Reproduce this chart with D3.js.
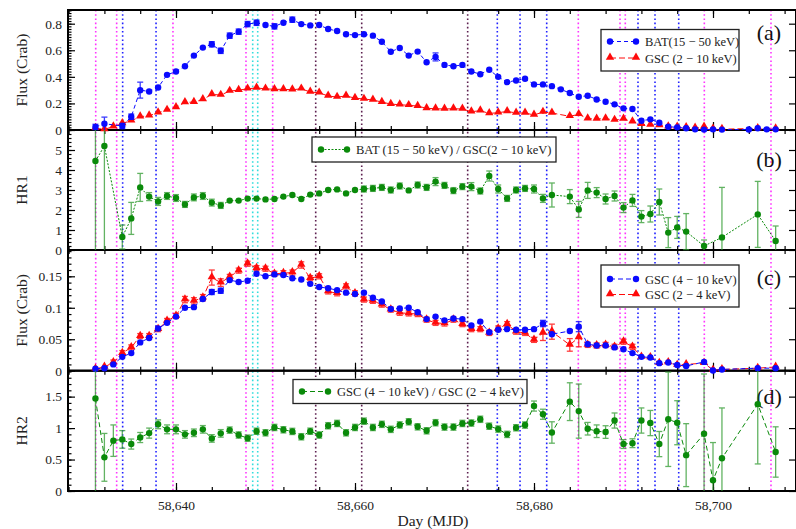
<!DOCTYPE html>
<html>
<head>
<meta charset="utf-8">
<script src="https://cdn.jsdelivr.net/npm/d3@7"></script>
<style>
  body { margin: 0; background: #fff; }
  text { font-family: "Liberation Serif", "Times New Roman", serif; }
</style>
</head>
<body>
<svg id="chart" width="796" height="529"></svg>
<script>
// ---- data ----
const batDays = [
  58631, 58632, 58634, 58635, 58636, 58637, 58638, 58639, 58640, 58641,
  58642, 58643, 58644, 58645, 58646, 58647, 58648, 58649, 58650, 58651,
  58652, 58653, 58654, 58655, 58656, 58657, 58658, 58659, 58660, 58661,
  58662, 58663, 58664, 58665, 58666, 58667, 58668, 58669, 58670, 58671,
  58672, 58673, 58674, 58675, 58676, 58677, 58678, 58679, 58680, 58681,
  58682, 58683, 58684, 58685, 58686, 58687, 58688, 58689, 58690, 58691,
  58692, 58693, 58694, 58695, 58696, 58697, 58698, 58699, 58700, 58701,
  58704, 58705, 58706, 58707];
const batFlux = [
  0.023, 0.047, 0.030, 0.100, 0.300, 0.290, 0.320, 0.415, 0.440, 0.480,
  0.560, 0.620, 0.645, 0.596, 0.710, 0.740, 0.797, 0.807, 0.790, 0.780,
  0.807, 0.830, 0.797, 0.787, 0.790, 0.760, 0.745, 0.720, 0.714, 0.720,
  0.710, 0.664, 0.589, 0.617, 0.560, 0.590, 0.510, 0.550, 0.490, 0.480,
  0.490, 0.440, 0.420, 0.453, 0.400, 0.360, 0.373, 0.386, 0.343, 0.343,
  0.330, 0.306, 0.278, 0.250, 0.258, 0.230, 0.213, 0.193, 0.163, 0.158,
  0.070, 0.080, 0.055, 0.025, 0.020, 0.013, 0.005, 0.003, 0.005, 0.003,
  0.004, 0.013, 0.005, 0.005];
const batErr = [
  0.020, 0.050, 0.020, 0.020, 0.060, 0.012, 0.015, 0.015, 0.015, 0.015,
  0.015, 0.015, 0.020, 0.020, 0.020, 0.020, 0.020, 0.020, 0.015, 0.020,
  0.015, 0.020, 0.015, 0.015, 0.015, 0.015, 0.015, 0.015, 0.015, 0.015,
  0.015, 0.015, 0.015, 0.015, 0.015, 0.015, 0.015, 0.030, 0.015, 0.015,
  0.015, 0.015, 0.015, 0.015, 0.015, 0.010, 0.010, 0.010, 0.010, 0.010,
  0.010, 0.010, 0.010, 0.010, 0.010, 0.010, 0.010, 0.010, 0.010, 0.010,
  0.012, 0.012, 0.010, 0.008, 0.008, 0.008, 0.008, 0.008, 0.008, 0.008,
  0.006, 0.006, 0.006, 0.006];

const gscDays = [
  58631, 58632, 58633, 58634, 58635, 58636, 58637, 58638, 58639, 58640,
  58641, 58642, 58643, 58644, 58645, 58646, 58647, 58648, 58649, 58650,
  58651, 58652, 58653, 58654, 58655, 58656, 58657, 58658, 58659, 58660,
  58661, 58662, 58663, 58664, 58665, 58666, 58667, 58668, 58669, 58670,
  58671, 58672, 58673, 58674, 58675, 58676, 58677, 58678, 58679, 58680,
  58681, 58682, 58684, 58685, 58686, 58687, 58688, 58689, 58690, 58691,
  58692, 58693, 58694, 58695, 58696, 58697, 58698, 58699, 58700, 58701,
  58705, 58707];
const gscFlux = [
  0.013, 0.005, 0.025, 0.050, 0.070, 0.100, 0.108, 0.130, 0.150, 0.170,
  0.208, 0.210, 0.230, 0.268, 0.263, 0.293, 0.300, 0.310, 0.316, 0.310,
  0.306, 0.306, 0.303, 0.310, 0.286, 0.280, 0.256, 0.248, 0.256, 0.240,
  0.233, 0.226, 0.210, 0.195, 0.190, 0.186, 0.180, 0.163, 0.160, 0.158,
  0.160, 0.158, 0.138, 0.145, 0.125, 0.130, 0.140, 0.128, 0.128, 0.113,
  0.135, 0.128, 0.103, 0.118, 0.085, 0.083, 0.085, 0.075, 0.083, 0.063,
  0.043, 0.038, 0.035, 0.025, 0.023, 0.020, 0.015, 0.023, 0.008, 0.006,
  0.012, 0.010];
const gscErr = [
  0.006, 0.006, 0.006, 0.006, 0.006, 0.006, 0.006, 0.006, 0.006, 0.006,
  0.006, 0.006, 0.006, 0.008, 0.006, 0.006, 0.006, 0.006, 0.006, 0.006,
  0.006, 0.006, 0.006, 0.006, 0.006, 0.006, 0.006, 0.006, 0.006, 0.006,
  0.006, 0.006, 0.006, 0.006, 0.006, 0.006, 0.006, 0.006, 0.006, 0.006,
  0.006, 0.006, 0.006, 0.006, 0.006, 0.006, 0.006, 0.006, 0.006, 0.006,
  0.015, 0.006, 0.006, 0.015, 0.006, 0.006, 0.006, 0.006, 0.006, 0.006,
  0.006, 0.006, 0.006, 0.006, 0.006, 0.006, 0.006, 0.006, 0.006, 0.006,
  0.006, 0.006];

const hr1Days = [
  58631, 58632, 58634, 58635, 58636, 58637, 58638, 58639, 58640, 58641,
  58642, 58643, 58644, 58645, 58646, 58647, 58648, 58649, 58650, 58651,
  58652, 58653, 58654, 58655, 58656, 58657, 58658, 58659, 58660, 58661,
  58662, 58663, 58664, 58665, 58666, 58667, 58668, 58669, 58670, 58671,
  58672, 58673, 58674, 58675, 58676, 58677, 58678, 58679, 58680, 58681,
  58682, 58684, 58685, 58686, 58687, 58688, 58689, 58690, 58691, 58692,
  58693, 58694, 58695, 58696, 58697, 58699, 58701, 58705, 58707];
const hr1 = [
  4.45, 5.20, 0.65, 1.58, 3.13, 2.67, 2.43, 2.70, 2.60, 2.28,
  2.63, 2.70, 2.37, 2.23, 2.47, 2.47, 2.57, 2.57, 2.53, 2.55,
  2.67, 2.75, 2.55, 2.77, 2.83, 3.00, 3.03, 2.83, 3.00, 3.05,
  3.08, 3.13, 3.00, 3.20, 2.98, 3.25, 3.13, 3.42, 3.23, 2.97,
  3.17, 3.17, 2.95, 3.70, 3.05, 2.58, 3.00, 3.08, 3.05, 2.58,
  2.75, 2.67, 2.03, 2.98, 2.87, 2.55, 2.70, 2.12, 2.48, 1.67,
  1.80, 2.40, 0.87, 1.13, 0.92, 0.20, 0.63, 1.78, 0.45];
const hr1Err = [
  6.00, 6.00, 0.60, 0.80, 0.70, 0.20, 0.20, 0.17, 0.17, 0.15,
  0.17, 0.17, 0.17, 0.15, 0.10, 0.10, 0.10, 0.10, 0.10, 0.10,
  0.10, 0.10, 0.10, 0.10, 0.10, 0.12, 0.12, 0.12, 0.12, 0.15,
  0.15, 0.15, 0.15, 0.15, 0.12, 0.15, 0.15, 0.20, 0.15, 0.15,
  0.15, 0.20, 0.15, 0.25, 0.20, 0.15, 0.15, 0.15, 0.20, 0.20,
  0.60, 0.35, 0.40, 0.40, 0.25, 0.25, 0.25, 0.25, 0.30, 0.30,
  0.40, 0.65, 0.75, 0.55, 0.90, 0.30, 2.50, 1.65, 0.75];

const softDays = [
  58631, 58632, 58633, 58634, 58635, 58636, 58637, 58638, 58639, 58640,
  58641, 58642, 58643, 58644, 58645, 58646, 58647, 58648, 58649, 58650,
  58651, 58652, 58653, 58654, 58655, 58656, 58657, 58658, 58659, 58660,
  58661, 58662, 58663, 58664, 58665, 58666, 58667, 58668, 58669, 58670,
  58671, 58672, 58673, 58674, 58675, 58676, 58677, 58678, 58679, 58680,
  58681, 58682, 58684, 58685, 58686, 58687, 58688, 58689, 58690, 58691,
  58692, 58693, 58694, 58695, 58696, 58697, 58699, 58700, 58701,
  58705, 58707];
const gscHard = [   // 4-10 keV
  0.003, 0.004, 0.010, 0.022, 0.028, 0.045, 0.052, 0.067, 0.076, 0.086,
  0.100, 0.101, 0.114, 0.125, 0.127, 0.144, 0.141, 0.143, 0.154, 0.150,
  0.153, 0.152, 0.147, 0.145, 0.138, 0.133, 0.131, 0.128, 0.124, 0.122,
  0.124, 0.116, 0.110, 0.098, 0.099, 0.100, 0.093, 0.082, 0.086, 0.080,
  0.083, 0.082, 0.072, 0.078, 0.061, 0.065, 0.066, 0.065, 0.065, 0.066,
  0.075, 0.058, 0.063, 0.070, 0.042, 0.040, 0.040, 0.037, 0.034, 0.028,
  0.022, 0.021, 0.012, 0.013, 0.009, 0.0075, 0.014, 0.0003, 0.002,
  0.004, 0.004];
const gscHardErr = [
  0.003, 0.003, 0.003, 0.003, 0.003, 0.003, 0.003, 0.003, 0.003, 0.003,
  0.003, 0.003, 0.003, 0.004, 0.004, 0.003, 0.003, 0.003, 0.003, 0.003,
  0.003, 0.003, 0.003, 0.003, 0.003, 0.003, 0.003, 0.003, 0.003, 0.003,
  0.003, 0.003, 0.003, 0.003, 0.003, 0.003, 0.003, 0.003, 0.003, 0.003,
  0.003, 0.003, 0.003, 0.003, 0.003, 0.003, 0.003, 0.003, 0.003, 0.003,
  0.005, 0.003, 0.003, 0.008, 0.003, 0.003, 0.003, 0.003, 0.003, 0.003,
  0.003, 0.003, 0.003, 0.003, 0.003, 0.003, 0.003, 0.002, 0.002,
  0.002, 0.002];
const gscSoft = [   // 2-4 keV
  0.003, 0.006, 0.013, 0.028, 0.037, 0.055, 0.055, 0.066, 0.079, 0.087,
  0.113, 0.111, 0.116, 0.148, 0.140, 0.149, 0.159, 0.170, 0.163, 0.162,
  0.154, 0.155, 0.156, 0.168, 0.147, 0.150, 0.126, 0.123, 0.134, 0.123,
  0.113, 0.111, 0.105, 0.097, 0.092, 0.091, 0.090, 0.081, 0.076, 0.075,
  0.081, 0.074, 0.066, 0.066, 0.060, 0.067, 0.074, 0.062, 0.060, 0.049,
  0.060, 0.062, 0.041, 0.053, 0.041, 0.040, 0.041, 0.038, 0.046, 0.038,
  0.022, 0.021, 0.012, 0.013, 0.009, 0.010, 0.012, 0.001, 0.002,
  0.004, 0.006];
const gscSoftErr = [
  0.003, 0.003, 0.004, 0.004, 0.004, 0.004, 0.004, 0.004, 0.004, 0.004,
  0.005, 0.005, 0.005, 0.012, 0.006, 0.004, 0.004, 0.004, 0.004, 0.004,
  0.004, 0.004, 0.004, 0.005, 0.004, 0.004, 0.004, 0.004, 0.004, 0.004,
  0.004, 0.004, 0.004, 0.004, 0.004, 0.004, 0.004, 0.004, 0.004, 0.004,
  0.004, 0.004, 0.004, 0.004, 0.004, 0.004, 0.004, 0.004, 0.004, 0.004,
  0.012, 0.012, 0.010, 0.015, 0.004, 0.004, 0.004, 0.004, 0.004, 0.004,
  0.003, 0.003, 0.003, 0.003, 0.003, 0.003, 0.003, 0.002, 0.002,
  0.002, 0.002];

const hr2 = [
  1.47, 0.535, 0.80, 0.82, 0.746, 0.85, 0.92, 1.06, 0.98, 0.98,
  0.90, 0.925, 0.98, 0.836, 0.916, 0.968, 0.89, 0.84, 0.95, 0.925,
  1.01, 0.973, 0.947, 0.862, 0.95, 0.89, 1.037, 1.074, 0.925, 1.01,
  1.11, 1.01, 1.06, 0.98, 1.05, 1.10, 1.02, 0.957, 1.085, 1.016,
  1.016, 1.074, 1.08, 1.14, 1.03, 0.984, 0.90, 1.005, 1.048, 1.35,
  1.22, 0.93, 1.42, 1.27, 0.99, 0.95, 0.937, 1.12, 0.746, 0.76,
  1.12, 1.08, 0.746, 1.14, 1.085, 0.57, 0.91, 0.17, 0.52,
  1.38, 0.62];
const hr2Err = [
  2.00, 0.38, 0.25, 0.14, 0.08, 0.08, 0.08, 0.07, 0.07, 0.07,
  0.06, 0.06, 0.06, 0.06, 0.06, 0.05, 0.05, 0.05, 0.05, 0.05,
  0.05, 0.05, 0.05, 0.05, 0.05, 0.05, 0.05, 0.05, 0.05, 0.05,
  0.05, 0.05, 0.05, 0.05, 0.05, 0.05, 0.05, 0.05, 0.05, 0.05,
  0.05, 0.05, 0.05, 0.05, 0.05, 0.05, 0.05, 0.05, 0.05, 0.08,
  0.08, 0.17, 0.30, 0.43, 0.10, 0.10, 0.10, 0.12, 0.07, 0.07,
  0.20, 0.20, 0.20, 0.75, 0.35, 0.50, 0.95, 0.60, 0.80,
  0.95, 0.40];

// vertical marker lines (day, colour)
const markDays = [58631.03, 58633.37, 58634.04, 58637.77, 58639.66, 58647.82, 58648.57,
  58649.13, 58650.80, 58655.61, 58660.75, 58672.59, 58675.90, 58678.44, 58681.42,
  58684.95, 58689.61, 58690.20, 58691.62, 58693.52, 58696.17, 58699.03, 58706.48];
const markColors = ["#ff33ff", "#ff33ff", "#2020ff", "#2020ff", "#ff33ff", "#ff33ff", "#33dddd",
  "#33dddd", "#ff33ff", "#5c1f4f", "#5c1f4f", "#5c1f4f", "#2020ff", "#2020ff", "#2020ff",
  "#ff33ff", "#ff33ff", "#ff33ff", "#2020ff", "#2020ff", "#2020ff", "#ff33ff", "#ff33ff"];

const xMajor = [58640, 58660, 58680, 58700];

// ---- layout ----
const svg = d3.select("#chart");
const X0 = 68, X1 = 796;
const x = d3.scaleLinear().domain([58640, 58700]).range([176, 713]);
const xMinor = d3.range(58628, 58709, 4);

const BLUE = "#0a0aff", RED = "#ff0a0a", GREEN = "#0a8a0a";
const FONT = "'Liberation Serif', 'Times New Roman', serif";

const panels = [
  { top: 10, bottom: 130, max: 0.903, major: [0, 0.2, 0.4, 0.6, 0.8], minor: 0.02, title: "Flux (Crab)", tag: "(a)" },
  { top: 130, bottom: 250, max: 6, major: [0, 1, 2, 3, 4, 5], minor: 0.2, title: "HR1", tag: "(b)" },
  { top: 250, bottom: 370.7, max: 0.1918, major: [0, 0.05, 0.1, 0.15], minor: 0.01, title: "Flux (Crab)", tag: "(c)" },
  { top: 370.7, bottom: 491, max: 1.912, major: [0, 0.5, 1, 1.5], minor: 0.1, title: "HR2", tag: "(d)" }
];
panels.forEach(p => {
  p.y = d3.scaleLinear().domain([0, p.max]).range([p.bottom, p.top]);
});

// vertical dotted lines across all panels
svg.append("g").selectAll("line")
  .data(markDays)
  .join("line")
  .attr("x1", d => x(d)).attr("x2", d => x(d))
  .attr("y1", panels[0].top).attr("y2", panels[3].bottom)
  .attr("stroke", (d, i) => markColors[i])
  .attr("stroke-width", 1.6)
  .attr("stroke-dasharray", "1.6,2.6");

function styleAxis(g) {
  g.select(".domain").remove();
  g.selectAll("line").attr("stroke", "#000").attr("stroke-width", 1.2);
  g.attr("font-family", FONT);
  g.selectAll("text").attr("font-size", 13.5).attr("fill", "#222");
}

panels.forEach((p, k) => {
  const g = svg.append("g");
  const minorVals = d3.range(0, p.max + 1e-9, p.minor);

  g.append("g").attr("transform", `translate(${X0},0)`)
    .call(d3.axisLeft(p.y).tickValues(minorVals).tickSize(-3.5).tickFormat(""))
    .call(styleAxis);
  g.append("g").attr("transform", `translate(${X0},0)`)
    .call(d3.axisLeft(p.y).tickValues(p.major).tickSize(-7).tickPadding(6).tickFormat(d => String(d)))
    .call(styleAxis);
  g.append("g").attr("transform", `translate(${X1},0)`)
    .call(d3.axisRight(p.y).tickValues(p.major).tickSize(-7).tickFormat(""))
    .call(styleAxis);

  g.append("g").attr("transform", `translate(0,${p.top})`)
    .call(d3.axisTop(x).tickValues(xMinor).tickSize(-4).tickFormat(""))
    .call(styleAxis);
  g.append("g").attr("transform", `translate(0,${p.top})`)
    .call(d3.axisTop(x).tickValues(xMajor).tickSize(-8).tickFormat(""))
    .call(styleAxis);
  g.append("g").attr("transform", `translate(0,${p.bottom})`)
    .call(d3.axisBottom(x).tickValues(xMinor).tickSize(-4).tickFormat(""))
    .call(styleAxis);
  g.append("g").attr("transform", `translate(0,${p.bottom})`)
    .call(d3.axisBottom(x).tickValues(xMajor).tickSize(-8).tickPadding(9)
      .tickFormat(k === 3 ? d3.format(",") : ""))
    .call(styleAxis);

  g.append("rect")
    .attr("x", X0).attr("y", p.top)
    .attr("width", X1 - X0).attr("height", p.bottom - p.top)
    .attr("fill", "none").attr("stroke", "#000").attr("stroke-width", 2);

  g.append("text")
    .attr("transform", `translate(21,${(p.top + p.bottom) / 2}) rotate(-90)`)
    .attr("text-anchor", "middle").attr("dominant-baseline", "central")
    .attr("font-size", 15.5).attr("fill", "#222")
    .text(p.title);

  g.append("text")
    .attr("x", 769).attr("y", p.top + [30, 37, 35, 33][k])
    .attr("text-anchor", "middle")
    .attr("font-size", 22).attr("fill", "#111")
    .text(p.tag);
});

svg.append("text")
  .attr("x", 433).attr("y", 526)
  .attr("text-anchor", "middle")
  .attr("font-size", 15.5).attr("fill", "#222")
  .text("Day (MJD)");

// ---- series ----
const triangle = d3.symbol(d3.symbolTriangle).size(30);

function marker(sel, type, color) {
  if (type === "circle") {
    sel.append("circle").attr("r", 3.2).attr("fill", color);
  } else {
    sel.append("path").attr("d", triangle).attr("fill", color)
      .attr("transform", "translate(0,-0.6)");
  }
}

function drawSeries(p, days, vals, errs, o) {
  const y = p.y;
  const data = days.map((d, i) => ({ d, v: vals[i], e: errs[i] }));
  const g = svg.append("g");

  g.append("path")
    .datum(data)
    .attr("fill", "none")
    .attr("stroke", o.color)
    .attr("stroke-width", 1)
    .attr("stroke-dasharray", o.dash)
    .attr("d", d3.line().x(r => x(r.d)).y(r => y(r.v)));

  const eb = g.append("g").attr("stroke", o.errColor || o.color)
    .attr("stroke-width", 1.3).attr("opacity", o.errOpacity || 0.8);
  data.forEach(r => {
    const lo = y(Math.max(0, r.v - r.e));
    const hi = y(Math.min(p.max, r.v + r.e));
    const cx = x(r.d);
    eb.append("line").attr("x1", cx).attr("x2", cx).attr("y1", lo).attr("y2", hi);
    if (Math.abs(lo - hi) > 5) {
      if (r.v - r.e > 0) eb.append("line").attr("x1", cx - 3).attr("x2", cx + 3).attr("y1", lo).attr("y2", lo);
      if (r.v + r.e < p.max) eb.append("line").attr("x1", cx - 3).attr("x2", cx + 3).attr("y1", hi).attr("y2", hi);
    }
  });

  g.selectAll("g.pt")
    .data(data)
    .join("g")
    .attr("class", "pt")
    .attr("transform", r => `translate(${x(r.d)},${y(r.v)})`)
    .each(function () { marker(d3.select(this), o.marker, o.color); });
}

const A = panels[0], B = panels[1], C = panels[2], D = panels[3];

drawSeries(A, gscDays, gscFlux, gscErr, { color: RED, dash: "6,3", marker: "triangle" });
drawSeries(A, batDays, batFlux, batErr, { color: BLUE, dash: "4,3", marker: "circle" });
drawSeries(B, hr1Days, hr1, hr1Err, { color: GREEN, dash: "2,1.5", marker: "circle", errColor: "#2e9a2e", errOpacity: 0.75 });
drawSeries(C, softDays, gscSoft, gscSoftErr, { color: RED, dash: "6,3", marker: "triangle" });
drawSeries(C, softDays, gscHard, gscHardErr, { color: BLUE, dash: "5,3", marker: "circle" });
drawSeries(D, softDays, hr2, hr2Err, { color: GREEN, dash: "5,3", marker: "circle", errColor: "#2e9a2e", errOpacity: 0.75 });

// ---- legends ----
function legend(x0, y0, w, h, entries) {
  const g = svg.append("g");
  g.append("rect").attr("x", x0).attr("y", y0).attr("width", w).attr("height", h)
    .attr("fill", "#fff").attr("stroke", "#222").attr("stroke-width", 1.3);
  entries.forEach(e => {
    const ly = y0 + e.dy;
    g.append("line")
      .attr("x1", x0 + 9).attr("x2", x0 + 35).attr("y1", ly).attr("y2", ly)
      .attr("stroke", e.color).attr("stroke-width", 1).attr("stroke-dasharray", e.dash);
    [x0 + 9, x0 + 35].forEach(mx => {
      const m = g.append("g").attr("transform", `translate(${mx},${ly})`);
      marker(m, e.marker, e.color);
    });
    g.append("text")
      .attr("x", x0 + 44).attr("y", ly + 4.5)
      .attr("font-size", 12.5).attr("fill", "#222")
      .text(e.label);
  });
}

legend(601, 29.5, 138, 41.5, [
  { label: "BAT(15 \u2212 50 keV)", color: BLUE, dash: "4,3", marker: "circle", dy: 12 },
  { label: "GSC (2 \u2212 10 keV)", color: RED, dash: "6,3", marker: "triangle", dy: 28.5 }
]);
legend(312, 137, 244, 25, [
  { label: "BAT (15 \u2212 50 keV) / GSC(2 \u2212 10 keV)", color: GREEN, dash: "2,1.5", marker: "circle", dy: 12.5 }
]);
legend(601, 265, 138, 42, [
  { label: "GSC (4 \u2212 10 keV)", color: BLUE, dash: "5,3", marker: "circle", dy: 14 },
  { label: "GSC (2 \u2212 4 keV)", color: RED, dash: "6,3", marker: "triangle", dy: 29.5 }
]);
legend(293, 379.5, 234, 24, [
  { label: "GSC (4 \u2212 10 keV) / GSC (2 \u2212 4 keV)", color: GREEN, dash: "5,3", marker: "circle", dy: 12 }
]);
</script>
</body>
</html>
